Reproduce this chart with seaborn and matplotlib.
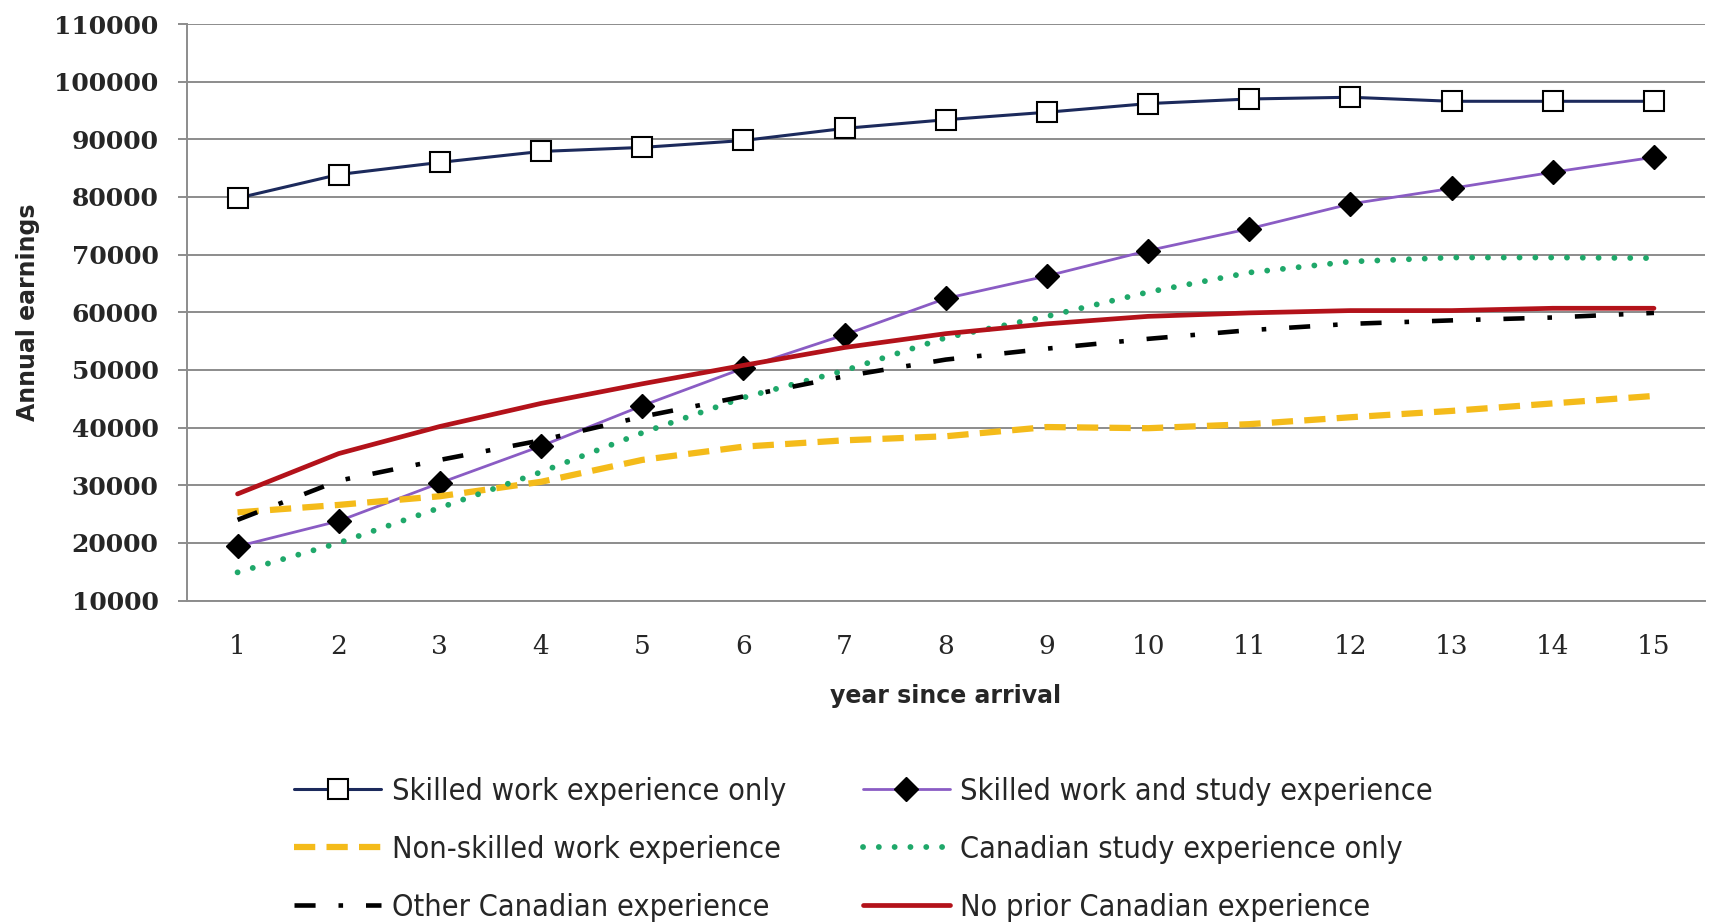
import matplotlib
matplotlib.use("Agg")
import matplotlib.pyplot as plt
from matplotlib.font_manager import FontProperties
import seaborn as sns
import pandas as pd

years = list(range(1, 16))

skilled_work_only = [79800, 83900, 86000, 87900, 88600, 89800, 91900, 93400, 94700,
                     96200, 97000, 97300, 96600, 96600, 96600]
skilled_work_study = [19400, 23800, 30400, 36800, 43800, 50300, 56100, 62400, 66300,
                      70700, 74500, 78800, 81500, 84300, 86900]
non_skilled_work = [25300, 26600, 28100, 30600, 34400, 36700, 37800, 38500, 40100,
                    39900, 40600, 41800, 42900, 44200, 45500]
study_only = [14900, 20000, 26100, 32300, 39100, 45200, 49900, 55600, 59300,
              63500, 66900, 68800, 69500, 69500, 69400]
other_canadian = [24000, 30800, 34400, 37800, 41900, 45400, 48900, 51800, 53700,
                  55400, 56900, 58000, 58600, 59100, 59900]
no_prior = [28500, 35500, 40200, 44200, 47600, 50800, 53900, 56300, 58000,
            59300, 59900, 60300, 60300, 60700, 60700]

series_names = [
    "Skilled work experience only",
    "Skilled work and study experience",
    "Non-skilled work experience",
    "Canadian study experience only",
    "Other Canadian experience",
    "No prior Canadian experience",
]
series_values = [skilled_work_only, skilled_work_study, non_skilled_work,
                 study_only, other_canadian, no_prior]

y_ticks = list(range(10000, 110001, 10000))

styles = {
    "Skilled work experience only": dict(color="#1c2a5c", lw=2.2, ls="-", marker="s",
                                         ms=15, mfc="white", mec="black", mew=1.5),
    "Skilled work and study experience": dict(color="#8a5cc4", lw=2.0, ls="-", marker="D",
                                              ms=12, mfc="black", mec="black", mew=1),
    "Non-skilled work experience": dict(color="#f4bb1a", lw=4.5, ls=(0, (3.4, 1.8)), marker=None),
    "Canadian study experience only": dict(color="#1fa86a", lw=4.2, ls=(0, (0.01, 2.7)),
                                           marker=None, dash_capstyle="round"),
    "Other Canadian experience": dict(color="black", lw=3.3, ls=(0, (4.6, 5.0, 1.0, 5.0)), marker=None),
    "No prior Canadian experience": dict(color="#b3121a", lw=3.4, ls="-", marker=None),
}

rows = []
for name, vals in zip(series_names, series_values):
    for yr, v in zip(years, vals):
        rows.append({"year": yr, "earnings": v, "group": name})
df = pd.DataFrame(rows)

sns.set_theme(style="white")
plt.rcParams["font.family"] = ["DejaVu Sans"]

fig = plt.figure(figsize=(17.09, 9.24), dpi=100)
ax = fig.add_axes([0.1094, 0.35, 0.888, 0.624])

for name in series_names:
    st = dict(styles[name])
    sub = df[df["group"] == name]
    ls = st.pop("ls")
    lw = st.pop("lw")
    color = st.pop("color")
    marker = st.pop("marker")
    kw = {}
    if marker is not None:
        kw.update(marker=marker, markersize=st.pop("ms"), markerfacecolor=st.pop("mfc"),
                  markeredgecolor=st.pop("mec"), markeredgewidth=st.pop("mew"))
    kw.update(st)
    sns.lineplot(data=sub, x="year", y="earnings", ax=ax, color=color, linewidth=lw,
                 linestyle=ls, label=name, legend=False, **kw)

ax.set_xlim(0.5, 15.5)
ax.set_ylim(10000, 110000)
ax.set_yticks(y_ticks)
ax.set_xticks(years)
ax.grid(axis="y", color="#8c8c8c", linewidth=1.4)
ax.grid(axis="x", visible=False)
ax.set_axisbelow(True)
for side in ["top", "right"]:
    ax.spines[side].set_visible(False)
ax.spines["left"].set_color("#8c8c8c")
ax.spines["left"].set_linewidth(1.4)
ax.spines["bottom"].set_color("#8c8c8c")
ax.spines["bottom"].set_linewidth(1.4)
ax.tick_params(axis="y", length=6.5, width=1.4, color="#8c8c8c", left=True, pad=14)
ax.tick_params(axis="x", length=0, pad=24)

for lbl in ax.get_yticklabels():
    lbl.set_fontfamily("DejaVu Serif")
    lbl.set_fontsize(18)
    lbl.set_fontweight("bold")
for lbl in ax.get_xticklabels():
    lbl.set_fontfamily("DejaVu Serif")
    lbl.set_fontsize(19)

ax.set_xlabel("year since arrival", fontsize=17, fontweight="bold", labelpad=18)
ax.set_ylabel("Annual earnings", fontsize=17, fontweight="bold")
ax.yaxis.set_label_coords(-0.097, 0.5)

legend_font = FontProperties(family="DejaVu Sans", stretch="condensed", size=22)

handles, labels = ax.get_legend_handles_labels()
order = [0, 2, 4, 1, 3, 5]
leg = fig.legend([handles[i] for i in order], [labels[i] for i in order],
                 loc="upper left", bbox_to_anchor=(0.156, 0.189), ncol=2, frameon=False,
                 handlelength=2.85, handletextpad=0.35, columnspacing=2.5,
                 labelspacing=0.95, prop=legend_font)

fig.savefig("out.png", dpi=100)
